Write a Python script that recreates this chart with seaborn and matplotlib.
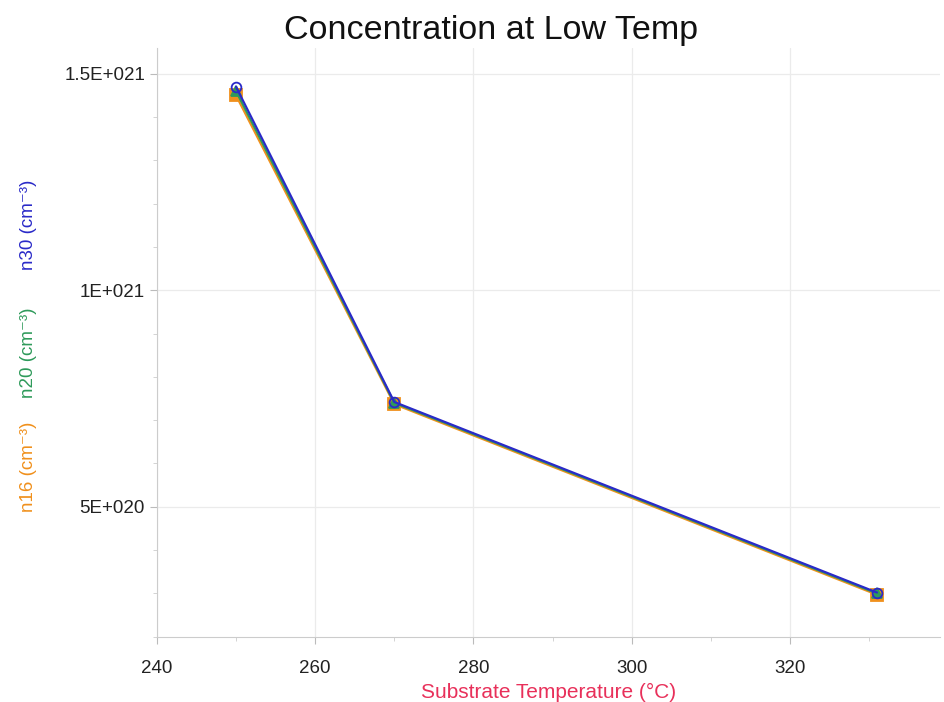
import pandas as pd
import matplotlib.pyplot as plt
import seaborn as sns
from matplotlib.ticker import MultipleLocator, FuncFormatter

# Data
temps = [250, 270, 331]
n16 = [1.45e21, 0.737e21, 0.297e21]
n20 = [1.46e21, 0.740e21, 0.300e21]
n30 = [1.47e21, 0.742e21, 0.302e21]
series_names = ["n16", "n20", "n30"]
colors = {"n16": "#f0901c", "n20": "#2e9a5a", "n30": "#2a2ac8"}
markers = {"n16": "s", "n20": "^", "n30": "o"}

df = pd.DataFrame({"T": temps, "n16": n16, "n20": n20, "n30": n30})
long = df.melt(id_vars="T", var_name="series", value_name="conc")

sns.set_style("white")
plt.rcParams['font.family'] = ['Liberation Sans', 'DejaVu Sans']

fig = plt.figure(figsize=(9.45, 7.02), dpi=100)
ax = fig.add_axes([0.166, 0.093, 0.829, 0.839])

for name in series_names:
    sub = long[long["series"] == name]
    filled = name != "n30"
    sns.lineplot(data=sub, x="T", y="conc", ax=ax, color=colors[name],
                 marker=markers[name], markersize=9 if name == "n16" else 7,
                 markerfacecolor=colors[name] if filled else "none",
                 markeredgecolor=colors[name], markeredgewidth=1.3,
                 linewidth=1.6, legend=False)

ax.set_xlim(240, 339)
ax.set_ylim(2.0e20, 1.56e21)
ax.xaxis.set_major_locator(MultipleLocator(20))
ax.xaxis.set_minor_locator(MultipleLocator(10))
ax.yaxis.set_major_locator(MultipleLocator(5e20))
ax.yaxis.set_minor_locator(MultipleLocator(1e20))

def yfmt(v, pos):
    m = v / 1e21
    if abs(m - round(m)) < 1e-9:
        return f"{int(round(m))}E+021"
    if m < 1:
        return f"{int(round(m * 10))}E+020"
    return f"{m:g}E+021"

ax.yaxis.set_major_formatter(FuncFormatter(yfmt))
ax.tick_params(axis="both", which="major", length=5, color="#bbbbbb",
               labelsize=13.5, labelcolor="#222222", direction="out",
               left=True, bottom=True)
ax.tick_params(axis="x", which="major", pad=12)
ax.tick_params(axis="both", which="minor", length=3, color="#cccccc",
               direction="out", left=True, bottom=True)
ax.grid(True, which="major", color="#ebebeb", linewidth=0.9)
for side in ["top", "right"]:
    ax.spines[side].set_visible(False)
for side in ["left", "bottom"]:
    ax.spines[side].set_color("#cccccc")

ax.set_xlabel("Substrate Temperature (°C)", color="#e8305a", fontsize=15, labelpad=4)
ax.set_ylabel("")
fig.text(0.52, 0.956, "Concentration at Low Temp", fontsize=24.5,
         ha="center", va="center", color="#111111")

# stacked, coloured y-axis labels
ylabels = [("n16 (cm⁻³)", colors["n16"], 0.335),
           ("n20 (cm⁻³)", colors["n20"], 0.498),
           ("n30 (cm⁻³)", colors["n30"], 0.680)]
for txt, c, yy in ylabels:
    fig.text(0.03, yy, txt, rotation=90, color=c, fontsize=13.5,
             ha="center", va="center")

fig.savefig("out.png", dpi=100)
